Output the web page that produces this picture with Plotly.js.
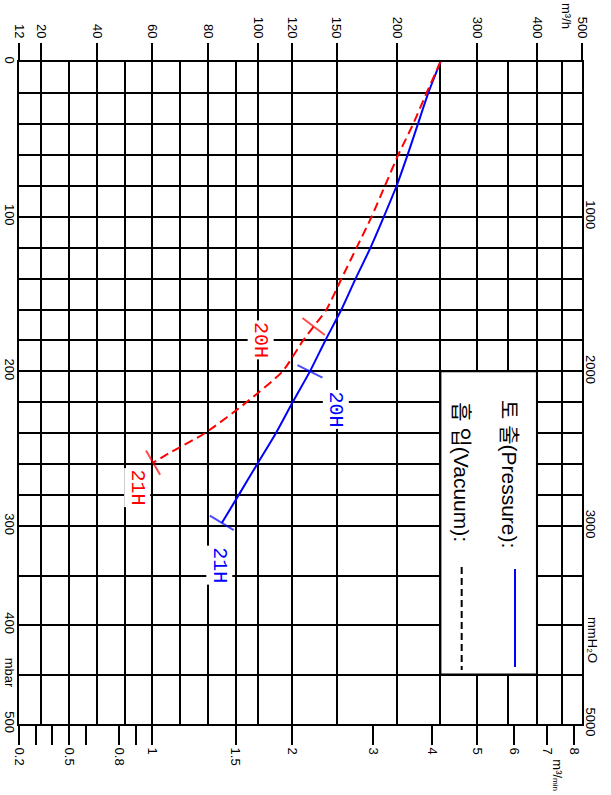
<!DOCTYPE html>
<html><head><meta charset="utf-8">
<script src="https://cdn.plot.ly/plotly-3.0.1.min.js"></script>
<style>html,body{margin:0;padding:0;background:#fff;}#chart{width:611px;height:795px;}</style>
</head><body><div id="chart"></div>
<script>
// ---- Axis calibration of this chart's own (non-linear) scales ----
// flow axis, m³/h  -> fraction of axis length (read from the printed grid)
const flowScaleValues = [12,20,30,40,50,60,70,80,90,100,120,150,200,250,300,350,400,450,500];
const flowScaleFrac   = [0,0.0398,0.0889,0.1386,0.1878,0.2371,0.2868,0.3359,0.3846,0.4242,0.4852,0.5641,0.6718,0.7485,0.8143,0.8694,0.9200,0.9645,1];
// pressure axis, mbar -> fraction of axis length
const pressScaleValues = [0,300,500];
const pressScaleFrac   = [0,0.701,1];

// ---- Grid / tick data ----
const flowGrid = [12,20,30,40,50,60,70,80,90,100,120,150,200,250,300,350,400,450,500];
const pressGrid = [0,20,40,60,80,100,120,140,160,180,200,220,240,260,280,300,350,400,450,500];
const pressTickText = ['0','','','','','100','','','','','200','','','','','300','','400','mbar','500'];
const flowTickValues = [12,20,40,60,80,100,120,150,200,300,400,500];
const flowTickText   = ['12','20','40','60','80','100','120','150','200','300','400','500'];
const minTickValues = [0.2,0.3,0.4,0.5,0.6,0.8,0.9,1,1.5,2,3,4,5,6,7,8];
const minTickText   = ['0.2','','','0.5','','0.8','','1','1.5','2','3','4','5','6','7','8'];
const mmh2oTickValues = [1000,2000,3000,5000];
const mmh2oTickText   = ['1000','2000','3000','5000'];

// ---- Curves ----
const pressurePts  = [0,20,40,60,80,100,120,140,160,180,200,220,240,260,280,298];
const pressureFlow = [250,236,224,212,199.5,189,178,165.7,154,142.4,132,120.3,110.5,99.7,91.4,85];
const pressureTags = ['','','','','','','','','','','20H','','','','','21H'];
const vacuumPts  = [0,20,40,60,80,100,120,140,160,171,180,200,220,240,252,259];
const vacuumFlow = [250,234,218.5,201.2,189.9,178.9,166.5,154.1,143.2,134.5,127.4,114.4,94.9,78.8,66.8,60.2];
const vacuumTags = ['','','','','','','','','','20H','','','','','','21H'];

function interp(v, xs, ys){
  for(let i=0;i<xs.length-1;i++){
    if(v<=xs[i+1]||i===xs.length-2){
      const t=(v-xs[i])/(xs[i+1]-xs[i]);
      return ys[i]+t*(ys[i+1]-ys[i]);
    }
  }
}
const fx = q => interp(q, flowScaleValues, flowScaleFrac);
const fy = p => interp(p, pressScaleValues, pressScaleFrac);

const BLUE='#0000ff', RED='#ff0000';
const tickFont={family:'Liberation Sans, Arial, sans-serif',size:13,color:'#000'};

function curve(flow,p,tags,color,dash){
  return {type:'scatter',mode:'lines+markers',x:flow.map(fx),y:p.map(fy),
    line:{color:color,width:2,dash:dash,shape:'spline',smoothing:0.6},
    marker:{symbol:'line-ew',size:tags.map(t=>t?20:0),angleref:'previous',color:color,line:{color:color,width:2}},
    hoverinfo:'skip',showlegend:false};
}
const dummy=(xa,ya)=>({type:'scatter',mode:'markers',x:[0.5],y:[0.5],xaxis:xa,yaxis:ya,marker:{opacity:0},hoverinfo:'skip',showlegend:false});

const data=[
  curve(pressureFlow,pressurePts,pressureTags,BLUE,'solid'),
  curve(vacuumFlow,vacuumPts,vacuumTags,RED,'9px,5px'),
  dummy('x2','y'),dummy('x3','y'),dummy('x','y2')
];

function tagAnn(flow,p,tags,tag,color,dx,dy){
  const i=tags.indexOf(tag);
  return {x:fx(flow[i]),y:fy(p[i]),xref:'x',yref:'y',text:tag,showarrow:false,textangle:90,
    xshift:dx,yshift:dy,bgcolor:'#fff',borderpad:1,
    font:{family:'Courier New, Liberation Mono, monospace',size:20,color:color}};
}
const legendFont={family:'Liberation Sans, Noto Sans CJK KR, sans-serif',size:21,color:'#000'};

const layout={
  width:611,height:795,margin:{l:19,r:29,t:62,b:71},
  paper_bgcolor:'#fff',plot_bgcolor:'#fff',showlegend:false,
  xaxis:{range:[0,1],tickvals:flowGrid.map(fx),showticklabels:false,ticks:'',showgrid:true,gridcolor:'#000',gridwidth:2,
    zeroline:false,showline:true,linecolor:'#000',linewidth:2,mirror:true,fixedrange:true},
  xaxis2:{overlaying:'x',side:'top',anchor:'y',range:[0,1],tickvals:flowTickValues.map(fx),ticktext:flowTickText,
    ticks:'outside',ticklen:18,tickwidth:2,tickcolor:'#000',tickangle:90,tickfont:tickFont,showgrid:false,zeroline:false,showline:false},
  xaxis3:{overlaying:'x',side:'bottom',anchor:'y',range:[0,1],tickvals:minTickValues.map(v=>fx(v*60)),ticktext:minTickText,
    ticks:'outside',ticklen:20,tickwidth:2,tickcolor:'#000',tickangle:90,tickfont:tickFont,showgrid:false,zeroline:false,showline:false},
  yaxis:{range:[1,0],tickvals:pressGrid.map(fy),ticktext:pressTickText,ticks:'',tickangle:90,tickfont:tickFont,ticklabelstandoff:-4,
    showgrid:true,gridcolor:'#000',gridwidth:2,zeroline:false,showline:true,linecolor:'#000',linewidth:2,mirror:true,fixedrange:true},
  yaxis2:{overlaying:'y',side:'right',anchor:'x',range:[1,0],tickvals:mmh2oTickValues.map(v=>fy(v/10)),ticktext:mmh2oTickText,
    ticks:'',tickangle:90,tickfont:tickFont,showgrid:false,zeroline:false,showline:false},
  shapes:[
    {type:'rect',xref:'x',yref:'y',x0:fx(250),x1:fx(400),y0:fy(200),y1:fy(450),fillcolor:'#fff',line:{color:'#000',width:2},layer:'above'},
    {type:'line',xref:'paper',yref:'paper',x0:0.881,x1:0.881,y0:0.2341,y1:0.0861,line:{color:BLUE,width:2},layer:'above'},
    {type:'line',xref:'paper',yref:'paper',x0:0.7863,x1:0.7863,y0:0.2372,y1:0.0816,line:{color:'#000',width:2,dash:'7px,4px'},layer:'above'}
  ],
  annotations:[
    tagAnn(vacuumFlow,vacuumPts,vacuumTags,'20H',RED,-53,-13),
    tagAnn(pressureFlow,pressurePts,pressureTags,'20H',BLUE,26,-38),
    tagAnn(vacuumFlow,vacuumPts,vacuumTags,'21H',RED,-16,-25),
    tagAnn(pressureFlow,pressurePts,pressureTags,'21H',BLUE,-3,-42),
    {xref:'paper',yref:'paper',x:0.8721,y:0.4924,xanchor:'center',yanchor:'top',showarrow:false,textangle:90,text:'토 출(Pressure):',font:legendFont},
    {xref:'paper',yref:'paper',x:0.7863,y:0.4894,xanchor:'center',yanchor:'top',showarrow:false,textangle:90,text:'흡 입(Vacuum):',font:legendFont},
    {xref:'paper',yref:'paper',x:0.9716,y:1.0695,xanchor:'center',yanchor:'middle',showarrow:false,textangle:90,text:'m³/h',font:tickFont},
    {xref:'paper',yref:'paper',x:0.955,y:-0.0498,xanchor:'center',yanchor:'top',showarrow:false,textangle:90,text:'m³/<span style="font-size:8px">min</span>',font:tickFont},
    {xref:'paper',yref:'paper',x:1.0178,y:0.1269,xanchor:'center',yanchor:'middle',showarrow:false,textangle:90,text:'mmH₂O',font:tickFont}
  ]
};
Plotly.newPlot('chart',data,layout,{staticPlot:true,displayModeBar:false});
</script></body></html>
